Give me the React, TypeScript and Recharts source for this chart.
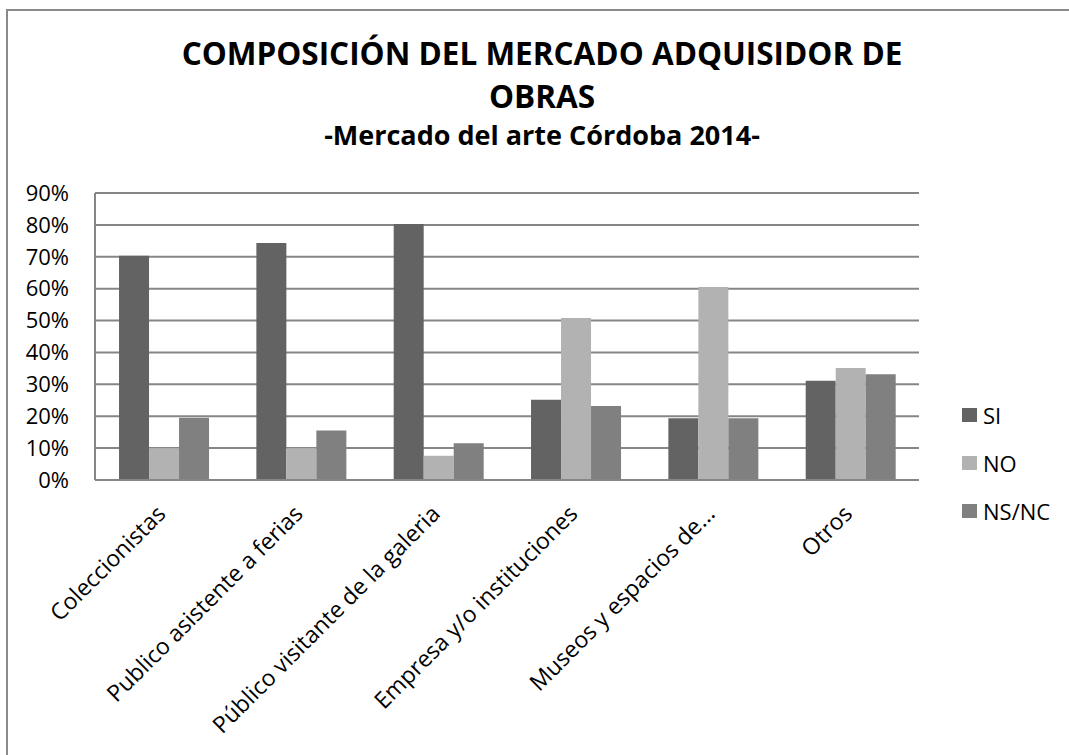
import React from 'react';
import { BarChart, Bar, XAxis, YAxis, CartesianGrid } from 'recharts';

const categories = [
  'Coleccionistas',
  'Publico asistente a ferias',
  'Público visitante de la galeria',
  'Empresa y/o instituciones',
  'Museos y espacios de...',
  'Otros',
];
const siValues = [70.3, 74.3, 80.3, 25.2, 19.4, 31.1];
const noValues = [10, 10, 7.6, 50.8, 60.5, 35.1];
const nsncValues = [19.5, 15.5, 11.5, 23.2, 19.4, 33.2];
const yTicks = [0, 10, 20, 30, 40, 50, 60, 70, 80, 90];

const seriesInfo = [
  { key: 'si', name: 'SI', color: '#636363' },
  { key: 'no', name: 'NO', color: '#b2b2b2' },
  { key: 'nsnc', name: 'NS/NC', color: '#808080' },
];

const data = categories.map((name, i) => ({
  name,
  si: siValues[i],
  no: noValues[i],
  nsnc: nsncValues[i],
}));

const FONT = '"Open Sans", Lato, sans-serif';

const AngledTick = (props: any) => {
  const { x, y, payload } = props;
  // labels sit a bit lower-left than recharts' default anchor
  return (
    <g transform={`translate(${x - 8},${y + 10})`}>
      <text
        x={0}
        y={0}
        dy={16}
        textAnchor="end"
        transform="rotate(-45)"
        fontSize={23}
        fontFamily={FONT}
        fill="#000"
      >
        {payload.value}
      </text>
    </g>
  );
};

export default function App() {
  return (
    <div style={{ position: 'absolute', left: 0, top: 0, width: 1069, height: 755, background: '#fff', overflow: 'hidden' }}>
      <div style={{ position: 'absolute', left: 6, top: 9, right: -10, bottom: -10, borderTop: '2px solid #8a8a8a', borderLeft: '2px solid #8a8a8a' }} />
      <div style={{ position: 'absolute', left: 0, width: 1084, top: 31, textAlign: 'center', fontFamily: FONT, fontWeight: 700, color: '#000' }}>
        <div style={{ fontSize: 31.5, lineHeight: '43px' }}>COMPOSICIÓN DEL MERCADO ADQUISIDOR DE</div>
        <div style={{ fontSize: 31.5, lineHeight: '43px' }}>OBRAS</div>
        <div style={{ fontSize: 27, lineHeight: '34px', marginTop: 1 }}>-Mercado del arte Córdoba 2014-</div>
      </div>
      <BarChart
        width={1069}
        height={755}
        data={data}
        margin={{ top: 193, right: 150, bottom: 75, left: 35 }}
        barCategoryGap="17.5%"
        barGap={0}
        style={{ position: 'absolute', left: 0, top: 0 }}
      >
        <CartesianGrid vertical={false} stroke="#868686" strokeWidth={2} />
        <XAxis
          dataKey="name"
          interval={0}
          height={200}
          tickLine={false}
          axisLine={{ stroke: '#868686', strokeWidth: 2 }}
          tick={<AngledTick />}
          tickMargin={8}
        />
        <YAxis
          width={60}
          domain={[0, 90]}
          ticks={yTicks}
          interval={0}
          tickFormatter={(v: number) => `${v}%`}
          tickLine={false}
          axisLine={{ stroke: '#868686', strokeWidth: 2 }}
          tickMargin={20}
          tick={{ fontSize: 22, fontFamily: FONT, fill: '#000' }}
        />
        {seriesInfo.map(s => (
          <Bar key={s.key} dataKey={s.key} name={s.name} fill={s.color} isAnimationActive={false} />
        ))}
      </BarChart>
      <div style={{ position: 'absolute', left: 962, top: 391, fontFamily: FONT, fontSize: 22, color: '#000' }}>
        {seriesInfo.map(s => (
          <div key={s.key} style={{ display: 'flex', alignItems: 'center', height: 48 }}>
            <span style={{ width: 15, height: 14, background: s.color, marginRight: 6, display: 'inline-block' }} />
            <span>{s.name}</span>
          </div>
        ))}
      </div>
    </div>
  );
}
